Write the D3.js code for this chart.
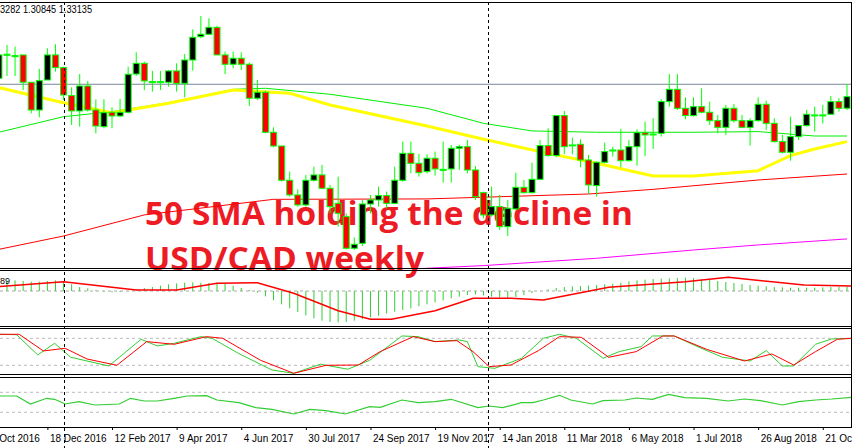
<!DOCTYPE html>
<html><head><meta charset="utf-8">
<script src="https://cdn.jsdelivr.net/npm/d3@7/dist/d3.min.js"></script>
<style>body{margin:0;background:#fff}svg{display:block}</style>
</head><body>
<script>
// Weekly USD/CAD candles, index -1..104 (OHLC)
const startIndex = -1;
const candles = [
[1.3333,1.3508,1.3545,1.332],[1.3508,1.3513,1.3583,1.335],[1.3503,1.3503,1.357,1.335],[1.3508,1.3303,1.3508,1.3245],
[1.3303,1.3095,1.3303,1.307],[1.3095,1.3315,1.3403,1.304],[1.332,1.3508,1.3558,1.332],[1.3508,1.3413,1.3588,1.3383],
[1.3413,1.3208,1.342,1.317],[1.3203,1.3088,1.3265,1.2983],[1.3088,1.3275,1.3365,1.297],[1.3275,1.3095,1.3313,1.3083],
[1.3095,1.2975,1.3175,1.292],[1.297,1.3075,1.3175,1.2958],[1.3078,1.305,1.3115,1.2958],[1.305,1.3078,1.3178,1.304],
[1.3078,1.3363,1.342,1.307],[1.3365,1.3445,1.3528,1.335],[1.3445,1.3313,1.3458,1.3245],[1.3308,1.3308,1.3388,1.3233],
[1.3308,1.3308,1.3388,1.3245],[1.3303,1.3388,1.3395,1.327],[1.3388,1.3295,1.3445,1.3233],[1.3295,1.347,1.3515,1.319],
[1.347,1.364,1.37,1.339],[1.3645,1.3663,1.38,1.3633],[1.3663,1.3715,1.3783,1.3658],[1.3715,1.3508,1.3725,1.3508],
[1.3508,1.3438,1.3533,1.3365],[1.3438,1.3483,1.3533,1.3408],[1.3483,1.3438,1.3528,1.3395],[1.3438,1.3183,1.345,1.3125],
[1.3183,1.3228,1.332,1.317],[1.3228,1.2928,1.324,1.292],[1.2928,1.2825,1.2965,1.2815],[1.2825,1.2568,1.2825,1.2558],
[1.2568,1.2458,1.2633,1.2445],[1.2458,1.2383,1.25,1.237],[1.2383,1.2568,1.2608,1.237],[1.2568,1.2608,1.267,1.2558],
[1.2608,1.2508,1.2683,1.25],[1.2508,1.237,1.2533,1.232],[1.2395,1.232,1.2595,1.222],[1.2295,1.2058,1.232,1.205],
[1.2058,1.2088,1.214,1.2045],[1.2095,1.239,1.242,1.2075],[1.239,1.242,1.2458,1.232],[1.242,1.2453,1.252,1.237],
[1.2453,1.2395,1.2483,1.2358],[1.2395,1.2568,1.267,1.239],[1.2568,1.277,1.2858,1.2558],[1.277,1.2695,1.2858,1.262],
[1.2695,1.2625,1.2765,1.2595],[1.2633,1.2733,1.2763,1.262],[1.2733,1.2653,1.2783,1.2603],[1.265,1.265,1.2858,1.255],
[1.2653,1.2808,1.2833,1.255],[1.2808,1.282,1.2833,1.2645],[1.282,1.2645,1.287,1.262],[1.2645,1.2445,1.2675,1.242],
[1.2475,1.2308,1.2483,1.2283],[1.2308,1.237,1.252,1.2295],[1.237,1.222,1.2458,1.2195],[1.222,1.2358,1.242,1.215],
[1.2353,1.2515,1.2625,1.2345],[1.2515,1.2475,1.257,1.247],[1.2475,1.2575,1.27,1.247],[1.2575,1.2828,1.287,1.257],
[1.2828,1.2753,1.2958,1.2745],[1.2753,1.3053,1.3058,1.274],[1.3053,1.282,1.3088,1.2765],[1.2833,1.2833,1.2888,1.2763],
[1.2838,1.272,1.2875,1.2665],[1.272,1.2533,1.2758,1.2465],[1.2528,1.2703,1.2708,1.2445],[1.2703,1.2783,1.285,1.2695],
[1.279,1.2795,1.282,1.2745],[1.2795,1.2715,1.2953,1.2665],[1.2715,1.282,1.287,1.2708],[1.282,1.2925,1.295,1.2678],
[1.2925,1.2908,1.3008,1.275],[1.2908,1.2915,1.3033,1.2803],[1.292,1.3158,1.3175,1.2895],[1.3158,1.325,1.3365,1.312],
[1.325,1.3108,1.3365,1.3095],[1.3108,1.3053,1.319,1.3025],[1.3053,1.312,1.319,1.3045],[1.312,1.3078,1.3258,1.307],
[1.3078,1.3015,1.3158,1.2983],[1.3015,1.2965,1.3058,1.292],[1.2965,1.3108,1.3133,1.2908],[1.3108,1.3015,1.314,1.3],
[1.3015,1.2965,1.3058,1.2958],[1.2965,1.3015,1.3033,1.2828],[1.3015,1.3138,1.319,1.3008],[1.3138,1.2995,1.3165,1.2945],
[1.2995,1.2858,1.3033,1.285],[1.2858,1.2778,1.2908,1.277],[1.2778,1.2895,1.3045,1.2715],[1.2895,1.2978,1.2983,1.287],
[1.2978,1.3063,1.3095,1.297],[1.3058,1.3058,1.312,1.2933],[1.3058,1.3058,1.3133,1.2995],[1.3063,1.3158,1.32,1.3058],
[1.3158,1.3108,1.3183,1.3083],[1.3108,1.3195,1.329,1.3095]
];
// Moving averages: [week index, value]
const sma50 = [[-1,1.3263],[7,1.315],[13,1.3075],[20,1.3145],[28,1.3245],[35,1.322],[40,1.3133],[52,1.2975],[59,1.2875],[66,1.2783],[73,1.2695],[80,1.26],[85,1.26],[93,1.264],[97,1.2753],[100,1.2803],[104,1.2858]];
const sma100 = [[-1,1.2928],[7,1.3045],[13,1.3083],[20,1.315],[28,1.325],[32,1.3258],[40,1.3213],[52,1.3108],[59,1.2995],[65,1.2938],[73,1.2928],[85,1.2928],[93,1.2933],[100,1.29],[104,1.29]];
const sma200 = [[-1,1.205],[7,1.215],[17,1.2308],[33,1.2425],[52,1.2428],[72,1.2465],[80,1.25],[93,1.257],[104,1.2615]];
const sma400 = [[51,1.1905],[52,1.1908],[59,1.1928],[73,1.1983],[85,1.2045],[93,1.2083],[104,1.2128]];
const resistance = 1.3288;
// MACD histogram per week (index -1..104) and signal
const macdHist = [3.3,3.0,3.2,3.0,2.8,2.8,3.0,3.2,2.6,2.0,1.2,0.8,0.3,-0.2,-0.4,-0.3,-0.1,0.4,0.9,1.2,1.6,2.0,2.3,2.5,2.6,2.5,2.4,2.5,2.2,1.6,0.9,0.3,-0.5,-1.6,-2.8,-4.0,-5.2,-6.3,-7.3,-8.2,-8.9,-9.3,-9.4,-9.3,-8.9,-8.4,-7.9,-7.4,-6.8,-6.2,-5.7,-5.2,-4.6,-4.0,-3.4,-2.8,-2.2,-1.7,-1.2,-1.0,-1.3,-1.7,-2.0,-2.1,-1.8,-1.2,-0.6,0.0,0.5,0.9,1.2,1.4,1.5,1.6,1.8,2.0,2.2,2.5,2.9,3.2,3.4,3.6,3.7,3.8,3.9,4.0,3.9,3.6,3.3,3.0,2.7,2.4,2.1,1.8,1.6,1.4,1.2,1.1,1.0,1.0,1.0,1.0,1.1,1.2,1.3,1.4];
const macdSignal = [[-1,1.3],[7,2.8],[16,0.3],[21,0.3],[26,2.3],[31,2.5],[35.5,-0.7],[41,-5.9],[45,-8.5],[47.6,-8.5],[53,-5.9],[57.7,-2.2],[62.4,-2.2],[66.4,-2.7],[74.5,1.1],[84,2.8],[89.3,4.1],[98.7,1.8],[104.6,1.5]];
// Stochastic %K (green) and %D (red)
const stochK = [[-1,88.9],[1.2,88],[3.8,42.9],[5.9,68.9],[7.9,37.8],[12.6,18.5],[16.6,77.8],[18.6,63],[20.7,68.9],[24,83.7],[25.4,80],[28.7,46.1],[32.8,9.6],[35.5,2.2],[38.8,22.4],[42.2,11.3],[44.9,31.1],[48.9,85.2],[50.9,83.7],[53,72.6],[56,76.3],[57,72.6],[58.3,17],[60.4,13.3],[63.7,35.6],[66.4,80],[68.4,88.9],[70.5,80],[73.8,35.6],[75.8,50.4],[78.5,61.5],[79.9,85.2],[82.6,85.2],[85.3,63],[88.6,37.8],[92,29.6],[94,52.6],[96,18.5],[97.4,18.5],[100.1,66.7],[102.1,78.5],[104.6,80]];
const stochD = [[-1,88.9],[1.5,88.9],[4.5,51.9],[7.2,57.8],[9.9,34.1],[13.6,20],[17.3,72.6],[20.7,66.7],[24.7,83.7],[26.7,80],[31.4,31.1],[35.5,2.2],[39.5,20],[43.5,20.7],[46.2,50.4],[50.3,83.7],[53,72.6],[55.7,74.8],[57.7,50.4],[59.7,17],[62.4,20.7],[65.8,52.6],[68.4,83.7],[71.1,82.2],[74.5,37.8],[77.9,50.4],[81.2,85.2],[82.6,85.2],[86.6,55.6],[91.3,29.6],[94.7,45.2],[97.4,20.7],[100.1,50.4],[102.8,77.8],[104.6,80]];
// RSI-style oscillator
const rsi = [[-1,62.6],[1.2,62.6],[2.9,46.6],[4.9,58],[5.9,56],[7.2,46.6],[8.9,51.3],[10.9,44.6],[13.9,46.6],[15.3,58],[17,52.6],[18.6,52.6],[20.7,58],[22.3,62.6],[24.7,63.3],[26,54.6],[28.7,49.3],[30.8,39.3],[32.8,36],[35.5,26.6],[37.5,36],[39.5,33.3],[41.9,26.6],[44.9,41.3],[46.2,40],[48.9,54.6],[50.9,49.3],[53,51.3],[55,56],[58.3,39.3],[59.7,42.6],[61.4,39.3],[63.7,49.3],[65.1,49.3],[66.4,54.6],[68.4,64],[69.8,54.6],[72.5,46.6],[73.8,53.3],[76.5,54.6],[77.9,58.6],[79.9,56],[81.9,65.9],[83.9,59.3],[86.6,58],[89.3,52.6],[91.3,56.6],[93.3,53.3],[96,44.6],[98,51.3],[100.1,54.6],[102.1,56.6],[104.6,60]];
const tickIdx = [-3,5,13,21,29,37,45,53,61,69,77,85,93,101];
const tickLabels = ["23 Oct 2016","18 Dec 2016","12 Feb 2017","9 Apr 2017","4 Jun 2017","30 Jul 2017","24 Sep 2017","19 Nov 2017","14 Jan 2018","11 Mar 2018","6 May 2018","1 Jul 2018","26 Aug 2018","21 Oct 2018"];
const separators = [7, 59.5];
const title1 = "50 SMA holding the decline in", title2 = "USD/CAD weekly";

const W=852,H=448;
const svg=d3.select("body").append("svg").attr("width",W).attr("height",H);
const x=d3.scaleLinear().domain([0,104]).range([7,847]);
const y=d3.scaleLinear().domain([1.392,1.191]).range([0,268]);
const yM=d3.scaleLinear().domain([5.7,-10.5]).range([272,326]);
const yS=d3.scaleLinear().domain([100,0]).range([329.3,374.3]);
const yR=d3.scaleLinear().domain([100,0]).range([377.3,427.3]);

svg.append("text").attr("x",145).attr("y",225).text(title1)
 .attr("font-family","Open Sans").attr("font-weight",700).attr("font-size",32)
 .attr("fill","#ed1c24").attr("textLength",488).attr("lengthAdjust","spacingAndGlyphs");
svg.append("text").attr("x",145).attr("y",270).text(title2)
 .attr("font-family","Open Sans").attr("font-weight",700).attr("font-size",32)
 .attr("fill","#ed1c24").attr("textLength",279).attr("lengthAdjust","spacingAndGlyphs");

const main=svg.append("g");
main.append("line").attr("x1",0).attr("x2",W).attr("y1",y(resistance)).attr("y2",y(resistance)).attr("stroke","#778899").attr("stroke-width",1);
const line=(ys)=>d3.line().x(d=>x(d[0])).y(d=>ys(d[1]));
main.append("path").attr("d",line(y)(sma200)).attr("fill","none").attr("stroke","#ff0000").attr("stroke-width",1);
main.append("path").attr("d",line(y)(sma400)).attr("fill","none").attr("stroke","#ff00ff").attr("stroke-width",1);
main.append("path").attr("d",line(y)(sma100)).attr("fill","none").attr("stroke","#00ee00").attr("stroke-width",1);
main.append("path").attr("d",line(y)(sma50)).attr("fill","none").attr("stroke","#ffff00").attr("stroke-width",3);

const cg=main.selectAll("g.c").data(candles).join("g");
cg.append("line").attr("x1",(d,i)=>x(i+startIndex)).attr("x2",(d,i)=>x(i+startIndex))
 .attr("y1",d=>y(d[2])).attr("y2",d=>y(d[3])).attr("stroke","#00ff00").attr("stroke-width",1);
cg.append("rect").attr("x",(d,i)=>x(i+startIndex)-3).attr("width",6)
 .attr("y",d=>y(Math.max(d[0],d[1]))).attr("height",d=>Math.max(1,Math.abs(y(d[0])-y(d[1]))))
 .attr("fill",d=>d[1]>=d[0]?"#000":"#ff0000").attr("stroke","#00ff00").attr("stroke-width",1);

svg.append("line").attr("x1",0).attr("x2",W).attr("y1",yM(0)).attr("y2",yM(0)).attr("stroke","#aaa").attr("stroke-dasharray","3,3");
svg.selectAll("line.h").data(macdHist).join("line").attr("x1",(d,i)=>x(i+startIndex)).attr("x2",(d,i)=>x(i+startIndex))
 .attr("y1",yM(0)).attr("y2",d=>yM(d)).attr("stroke","#32cd32").attr("stroke-width",1);
svg.append("path").attr("d",line(yM)(macdSignal)).attr("fill","none").attr("stroke","#ff0000").attr("stroke-width",1.5);
[80,20].forEach(v=>svg.append("line").attr("x1",0).attr("x2",W).attr("y1",yS(v)).attr("y2",yS(v)).attr("stroke","#bbb").attr("stroke-dasharray","3,3"));
svg.append("path").attr("d",line(yS)(stochK)).attr("fill","none").attr("stroke","#32cd32").attr("stroke-width",1);
svg.append("path").attr("d",line(yS)(stochD)).attr("fill","none").attr("stroke","#ff0000").attr("stroke-width",1);
[70,30].forEach(v=>svg.append("line").attr("x1",0).attr("x2",W).attr("y1",yR(v)).attr("y2",yR(v)).attr("stroke","#bbb").attr("stroke-dasharray","3,3"));
svg.append("path").attr("d",line(yR)(rsi)).attr("fill","none").attr("stroke","#32cd32").attr("stroke-width",1.2);

[2,268,270,326,328,374,377,427].forEach(v=>svg.append("line").attr("x1",0).attr("x2",W).attr("y1",v+0.5).attr("y2",v+0.5).attr("stroke","#000").attr("stroke-width",1));
svg.append("line").attr("x1",851.5).attr("x2",851.5).attr("y1",2).attr("y2",427).attr("stroke","#000");
separators.forEach(s=>svg.append("line").attr("x1",Math.round(x(s))+0.5).attr("x2",Math.round(x(s))+0.5).attr("y1",2).attr("y2",448).attr("stroke","#000").attr("stroke-dasharray","3,3"));

const ax=d3.axisBottom(x).tickValues(tickIdx).tickFormat((d,i)=>tickLabels[i]).tickSize(3);
const ag=svg.append("g").attr("transform","translate(0,427)").call(ax);
ag.select(".domain").remove();
ag.selectAll("text").attr("text-anchor","start").attr("x",2).attr("dy","0.9em").attr("font-family","Liberation Sans").attr("font-size",10).attr("fill","#000");
svg.append("text").attr("x",0).attr("y",13).text("3282 1.30845 1.33135").attr("font-family","Liberation Sans").attr("font-size",10).attr("textLength",92).attr("lengthAdjust","spacingAndGlyphs");
svg.append("text").attr("x",0).attr("y",284).text("89").attr("font-family","Liberation Sans").attr("font-size",9);
</script>
</body></html>
